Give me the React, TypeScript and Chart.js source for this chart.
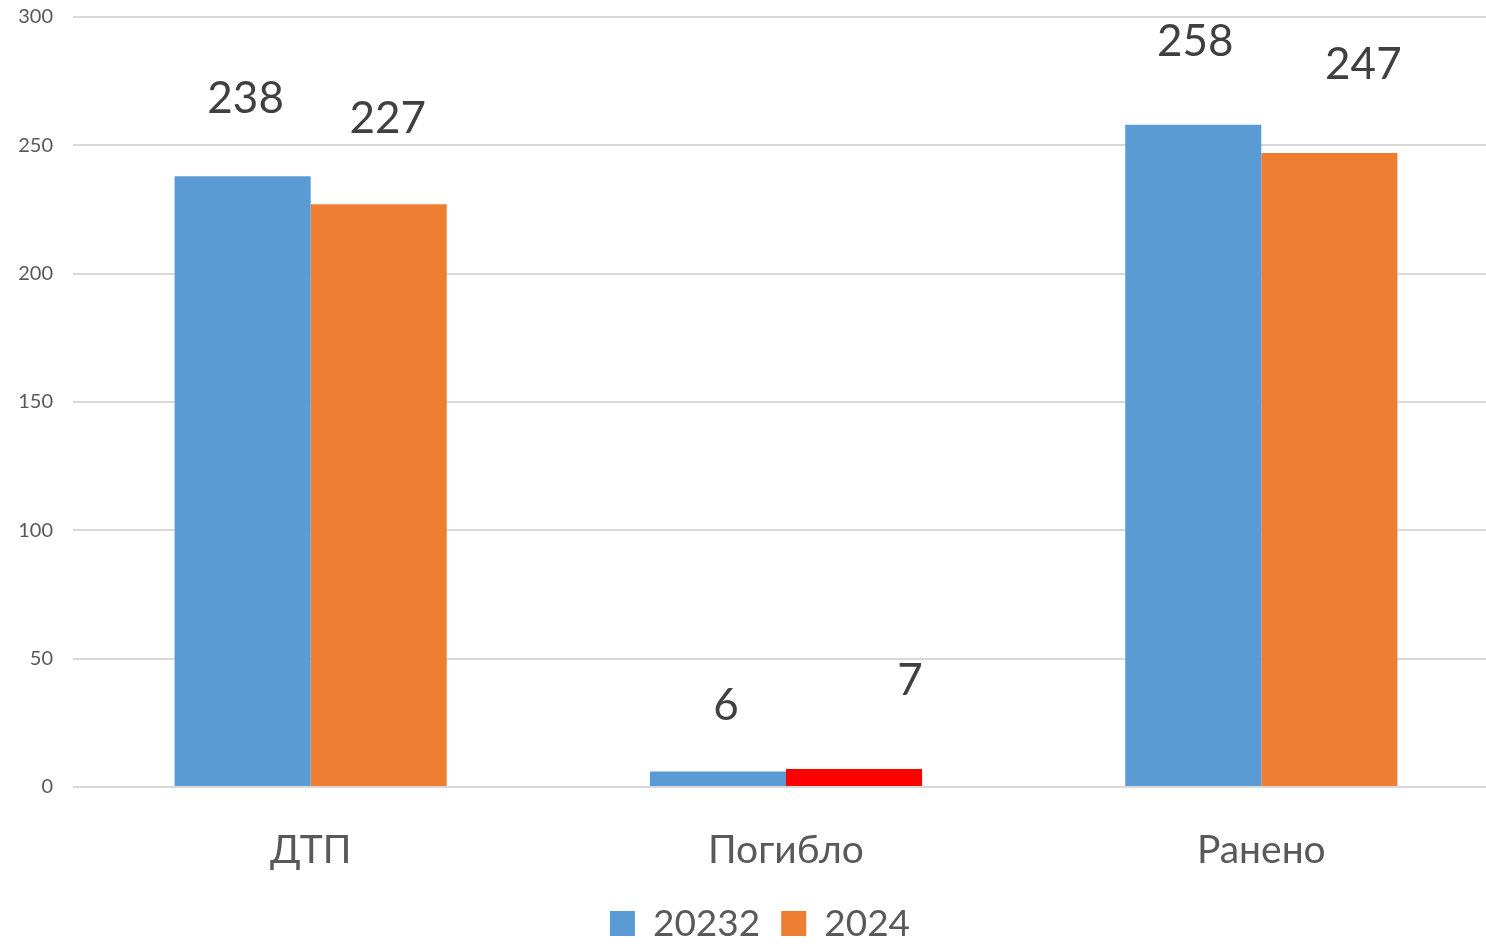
import React, { useEffect, useRef } from "react";
import { Chart, registerables } from "chart.js";

Chart.register(...registerables);

const categories = ["ДТП", "Погибло", "Ранено"];
const seriesNames = ["20232", "2024"];
const values2023 = [238, 6, 258];
const values2024 = [227, 7, 247];
const yTicks = [0, 50, 100, 150, 200, 250, 300];

const BLUE = "#5B9BD5";
const ORANGE = "#ED7D31";
const RED = "#FF0000";
const FONT = "Lato, 'Open Sans', sans-serif";
const legendColors = [BLUE, ORANGE];

// label placement relative to bar top (dx, dy) — style only
const labelOffsets = [
  [[3, -77], [8, -66], [2, -83]],
  [[9, -86], [56, -88], [34, -88]],
];

const labelPlugin = {
  id: "barLabels",
  afterDatasetsDraw(chart: any) {
    const ctx = chart.ctx;
    ctx.save();
    ctx.font = `44px ${FONT}`;
    ctx.fillStyle = "#404040";
    ctx.textAlign = "center";
    ctx.textBaseline = "middle";
    chart.data.datasets.forEach((ds: any, di: number) => {
      const meta = chart.getDatasetMeta(di);
      meta.data.forEach((el: any, i: number) => {
        const [dx, dy] = labelOffsets[di][i];
        ctx.fillText(String(ds.data[i]), el.x + dx, el.y + dy);
      });
    });
    ctx.restore();
  },
};

const legendPlugin = {
  id: "customLegend",
  afterDraw(chart: any) {
    const ctx = chart.ctx;
    ctx.save();
    ctx.font = `37px ${FONT}`;
    const box = 25;
    const gapBoxText = 18;
    const gapItems = 21;
    const widths = seriesNames.map((n) => ctx.measureText(n).width);
    const total =
      widths.reduce((a, w) => a + box + gapBoxText + w, 0) + gapItems * (seriesNames.length - 1);
    let x = 760 - total / 2;
    const boxTop = 911;
    const cy = boxTop + box / 2;
    ctx.textBaseline = "middle";
    ctx.textAlign = "left";
    seriesNames.forEach((n, i) => {
      ctx.fillStyle = legendColors[i];
      ctx.fillRect(x, boxTop, box, box);
      x += box + gapBoxText;
      ctx.fillStyle = "#595959";
      ctx.fillText(n, x, cy + 1);
      x += widths[i] + gapItems;
    });
    ctx.restore();
  },
};

export default function App() {
  const ref = useRef<HTMLCanvasElement | null>(null);
  useEffect(() => {
    document.body.style.margin = "0";
    const chart = new Chart(ref.current!, {
      type: "bar",
      data: {
        labels: categories,
        datasets: [
          {
            label: seriesNames[0],
            data: values2023,
            backgroundColor: BLUE,
          },
          {
            label: seriesNames[1],
            data: values2024,
            backgroundColor: values2024.map((_, i) => (i === 1 ? RED : ORANGE)),
          },
        ],
      },
      options: {
        animation: false,
        responsive: false,
        maintainAspectRatio: false,
        layout: { padding: { top: 17, right: 0, left: 0, bottom: 62 } },
        datasets: {
          bar: { categoryPercentage: 0.5726, barPercentage: 1 },
        },
        plugins: {
          legend: { display: false },
          tooltip: { enabled: false },
        },
        scales: {
          x: {
            grid: { display: false, drawTicks: false },
            border: { display: false },
            ticks: {
              font: { family: FONT, size: 39 },
              color: "#595959",
              padding: 40,
            },
            afterFit: (s: any) => {
              s.height = 95;
              s.paddingLeft = 0;
              s.paddingRight = 0;
            },
          },
          y: {
            min: 0,
            max: 300,
            afterBuildTicks: (s: any) => {
              s.ticks = yTicks.map((v) => ({ value: v }));
            },
            grid: { color: "#D9D9D9", lineWidth: 2, drawTicks: false },
            border: { display: false },
            ticks: {
              font: { family: FONT, size: 20 },
              color: "#595959",
              padding: 20,
            },
            afterFit: (s: any) => {
              s.width = 73;
              s.paddingTop = 0;
              s.paddingBottom = 0;
            },
          },
        },
      },
      plugins: [labelPlugin, legendPlugin],
    });
    return () => chart.destroy();
  }, []);
  return (
    <div style={{ width: 1486, height: 944, overflow: "hidden", background: "#fff" }}>
      <canvas ref={ref} width={1499} height={944} style={{ display: "block" }} />
    </div>
  );
}
